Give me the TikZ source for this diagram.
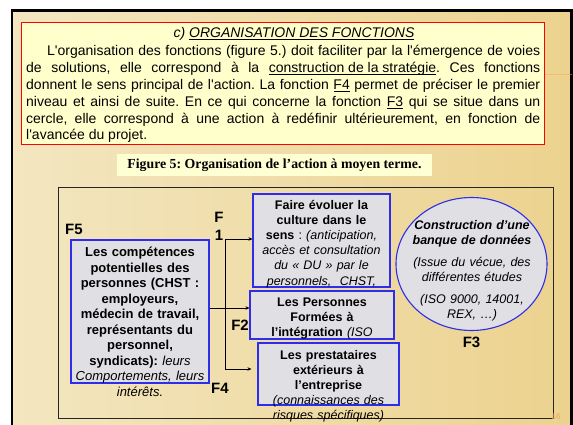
\documentclass[tikz,border=0pt]{standalone}
\usepackage{fontspec}
\setmainfont{Liberation Sans}
\newfontfamily\capfont{Liberation Serif}
\usetikzlibrary{positioning,shapes.geometric,arrows.meta}
\frenchspacing
\newcommand\ul[1]{\underline{\smash{#1}}}

\definecolor{slideL}{RGB}{243,230,192}
\definecolor{slideR}{RGB}{236,210,142}
\definecolor{paper}{RGB}{255,255,204}
\definecolor{capyellow}{RGB}{255,255,212}
\definecolor{boxgray}{RGB}{224,224,228}
\definecolor{boxblue}{RGB}{45,45,235}
\definecolor{pagenum}{RGB}{228,170,90}

\begin{document}
\begin{tikzpicture}[x=1pt, y=-1pt,
  b/.style={draw=boxblue, line width=1.1pt, fill=boxgray, inner sep=0pt},
  t/.style={anchor=base, inner sep=0pt, text width=150pt, align=center, font=\fontsize{12.5}{15.2}\selectfont},
  l/.style={inner sep=0pt, font=\fontsize{15}{18}\selectfont\bfseries},
  a/.style={line width=.8pt, -{Stealth[length=4pt,width=3.5pt]}}]
	\useasboundingbox (0,0) rectangle (573,425);
	\clip (0,0) rectangle (573,425);

	% slide
	\fill[left color=slideL, right color=slideR] (11,10) rectangle (573,425);
	\draw[line width=2.5pt] (12,440) -- (12,10.5) -- (571.5,10.5) -- (571.5,440);
	\draw[orange!70, line width=1pt, opacity=.5] (544,75) -- (572,75);

	% text block
	\node[draw=red, line width=.8pt, fill=paper, inner sep=0pt, minimum width=523pt, minimum height=122pt] (R) at (282.5,83) {};
	\node[anchor=base, inner sep=0pt, font=\fontsize{14}{17}\selectfont\itshape] (R_title) at (294,38) {c) \ul{ORGANISATION DES FONCTIONS}};
	\node[anchor=base west, inner sep=0pt, text width=514pt, align=justify, font=\fontsize{14}{16.8}\selectfont] (R_text) at (26,56) {\hspace*{21pt}L\textquotesingle organisation des fonctions (figure 5.) doit faciliter par la l\textquotesingle émergence de voies\linebreak de solutions, elle correspond à la \ul{construction de la stratégie}. Ces fonctions\linebreak donnent le sens principal de l\textquotesingle action. La fonction \ul{F4} permet de préciser le premier\linebreak niveau et ainsi de suite. En ce qui concerne la fonction \ul{F3} qui se situe dans un\linebreak cercle, elle correspond à une action à redéfinir ultérieurement, en fonction de\linebreak l\textquotesingle avancée du projet.};

	\node[fill=capyellow, inner sep=0pt, minimum width=315pt, minimum height=22pt, font=\capfont\fontsize{13.8}{15}\selectfont\bfseries] (cap) at (274.5,165) {Figure 5: Organisation de l’action à moyen terme.};

	% figure
	\node[draw=black!85, line width=.8pt, inner sep=0pt, minimum width=495pt, minimum height=231pt] (W) at (305.5,302.5) {};

	\node[b, minimum width=137pt, minimum height=93pt] (C) at (321.5,240.5) {};
	\node[t] (C_text) at (321.5,209) {{\bfseries Faire évoluer la\\culture dans le\\sens} : {\itshape (anticipation,\\accès et consultation\\du « DU » par le\\personnels,\ \ CHST,}};
	\node[b, minimum width=144pt, minimum height=48pt] (I) at (322,315) {};
	\node[t] (I_text) at (322,306) {{\bfseries Les Personnes\\Formées à\\l’intégration} {\itshape (ISO\\9000, ISO 14001)}};
	\node[b, minimum width=141pt, minimum height=62pt] (E) at (328.5,374) {};
	\node[t] (E_text) at (328.5,359) {{\bfseries Les prestataires\\extérieurs à\\l’entreprise}\\{\itshape (connaissances des\\risques spécifiques)}};

	\node[b, minimum width=138pt, minimum height=143pt] (P) at (140,311.5) {};
	\node[t, font=\fontsize{13}{15.5}\selectfont] (P_text) at (140,256.5) {{\bfseries Les compétences\\potentielles des\\personnes (CHST :\\employeurs,\\médecin de travail,\\représentants du\\personnel,\\syndicats):} {\itshape leurs}\\{\itshape Comportements, leurs}\\{\itshape intérêts.}};

	\node[b, ellipse, minimum width=151pt, minimum height=133pt] (D) at (471.5,264) {};
	\node[t, font=\fontsize{12.5}{15.5}\selectfont] (D_text) at (472,229) {{\bfseries\itshape Construction d'une\\banque de données}\\[6pt]{\itshape (Issue du vécue, des\\différentes études}\\[6pt]{\itshape (ISO 9000, 14001,\\REX, …)}};

	\node[l] (P_label) at (74,229) {F5};
	\node[l, align=center] (C_label) at (219,226) {F\\1};
	\node[l] (I_label) at (240,325) {F2};
	\node[l] (E_label) at (220,388) {F4};
	\node[l, below=6pt of D] (D_label) {F3};

	\coordinate (jTop) at (225,239);
	\coordinate (jMid) at (225,308);
	\coordinate (jBot) at (225,369);
	\draw[line width=.8pt] (jTop) -- (jBot);
	\draw[a] (P.east |- jMid) -- (I.west |- jMid);
	\draw[a] (jTop) -- (C.west |- jTop);
	\draw[a, shorten >=6pt] (jBot) -- (E.west |- jBot);

	\node[inner sep=0pt, text=pagenum, font=\fontsize{8}{8}\selectfont] (page) at (556,417) {16};
\end{tikzpicture}
\end{document}
